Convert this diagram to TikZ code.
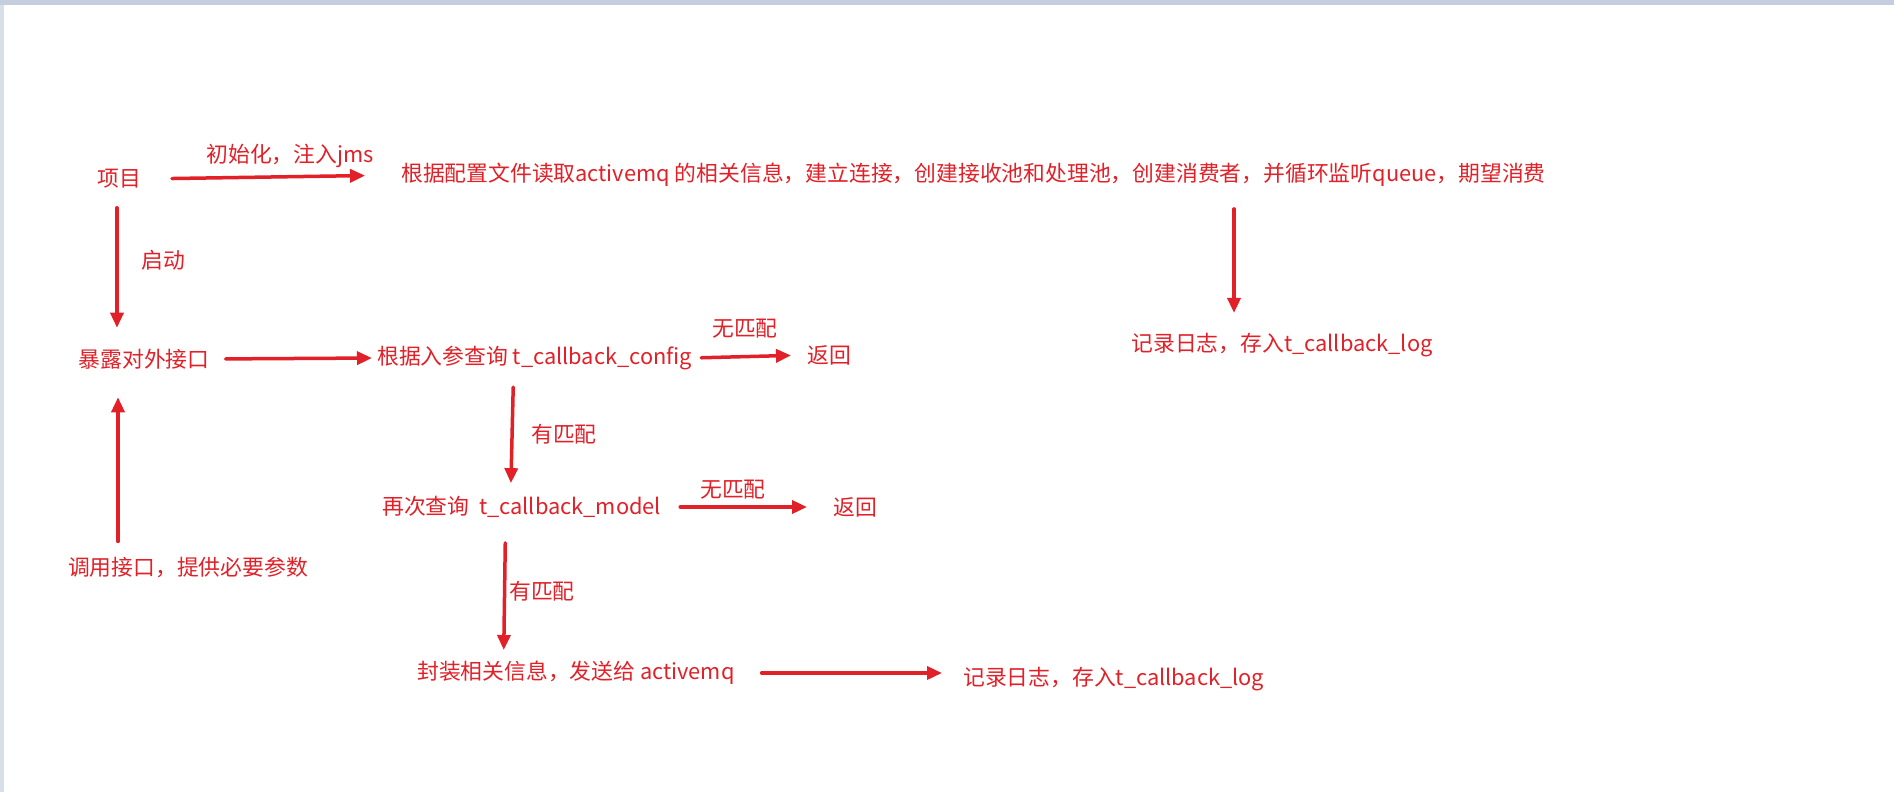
\documentclass[tikz,border=0pt]{standalone}
\usepackage{fontspec}
\setmainfont{Noto Sans CJK SC}
\usetikzlibrary{arrows.meta}
\definecolor{myred}{RGB}{226,32,40}
\definecolor{topbar}{RGB}{197,206,220}
\definecolor{leftbar}{RGB}{216,223,233}
\tikzset{
  txt/.style={text=myred, inner sep=0pt, font=\fontsize{21.8}{26}\selectfont},
  arr/.style={draw=myred, line width=3.5pt, line cap=round, -{Triangle[length=15pt,width=13pt]}}
}
\begin{document}
\begin{tikzpicture}[x=1pt,y=1pt]
\useasboundingbox (0,0) rectangle (1894,-792);
\fill[white] (0,0) rectangle (1894,-792);
\fill[leftbar] (0,0) rectangle (4,-792);
\fill[topbar] (0,0) rectangle (1894,-5);

% nodes
\node[txt] (xm) at (119,-179) {项目};
\node[txt, anchor=west] (init) at (401,-175) {根据配置文件读取activemq 的相关信息，建立连接，创建接收池和处理池，创建消费者，并循环监听queue，期望消费};
\node[txt] (log1) at (1282,-345) {记录日志，存入t\_callback\_log};
\node[txt] (bl) at (144,-359) {暴露对外接口};
\node[txt, anchor=west] (cfg) at (377,-358) {根据入参查询 t\_callback\_config};
\node[txt] (ret1) at (829,-355) {返回};
\node[txt, anchor=west] (mdl) at (382,-507) {再次查询\ \ t\_callback\_model};
\node[txt] (ret2) at (855,-507) {返回};
\node[txt, anchor=west] (send) at (417,-673) {封装相关信息，发送给 activemq};
\node[txt, anchor=west] (log2) at (963,-679) {记录日志，存入t\_callback\_log};
\node[txt] (call) at (188,-567) {调用接口，提供必要参数};

% labels
\node[txt] (l1) at (290,-156) {初始化，注入jms};
\node[txt] (l2) at (163,-260) {启动};
\node[txt] (l3) at (745,-329) {无匹配};
\node[txt] (l4) at (564,-434) {有匹配};
\node[txt] (l5) at (733,-490) {无匹配};
\node[txt] (l6) at (542,-591) {有匹配};

\coordinate (la) at ([xshift=-48pt]log1.north);

% connectors
\draw[arr, shorten <=31pt, shorten >=36pt] (xm.east) -- (init.west);
\draw[arr, shorten <=19pt, shorten >=21pt] ([xshift=-2pt]xm.south) -- ([xshift=-2pt]xm.south |- bl.north);
\draw[arr, shorten <=22pt, shorten >=20pt] (init.south -| la) -- (la);
\draw[arr, shorten <=16pt, shorten >=5pt] (bl.east) -- (cfg.west);
\draw[arr, shorten <=9pt, shorten >=16pt] (cfg.east) -- (ret1.west);
\draw[arr, shorten <=17pt, shorten >=13pt] ([xshift=-21pt]cfg.south) -- ([xshift=-24pt]cfg.south |- mdl.north);
\draw[arr, shorten <=19pt, shorten >=26pt] (mdl.east) -- (ret2.west);
\draw[arr, shorten <=25pt, shorten >=11pt] ([xshift=-16pt]mdl.south) -- ([xshift=-18pt]mdl.south |- send.north);
\draw[arr, shorten <=27pt, shorten >=21pt] (send.east) -- (send.east -| log2.west);
\draw[arr, shorten <=15pt, shorten >=28pt] (call.north -| bl.north) ++(-26pt,0) coordinate (cu) (cu) -- (cu |- bl.south);
\end{tikzpicture}
\end{document}
